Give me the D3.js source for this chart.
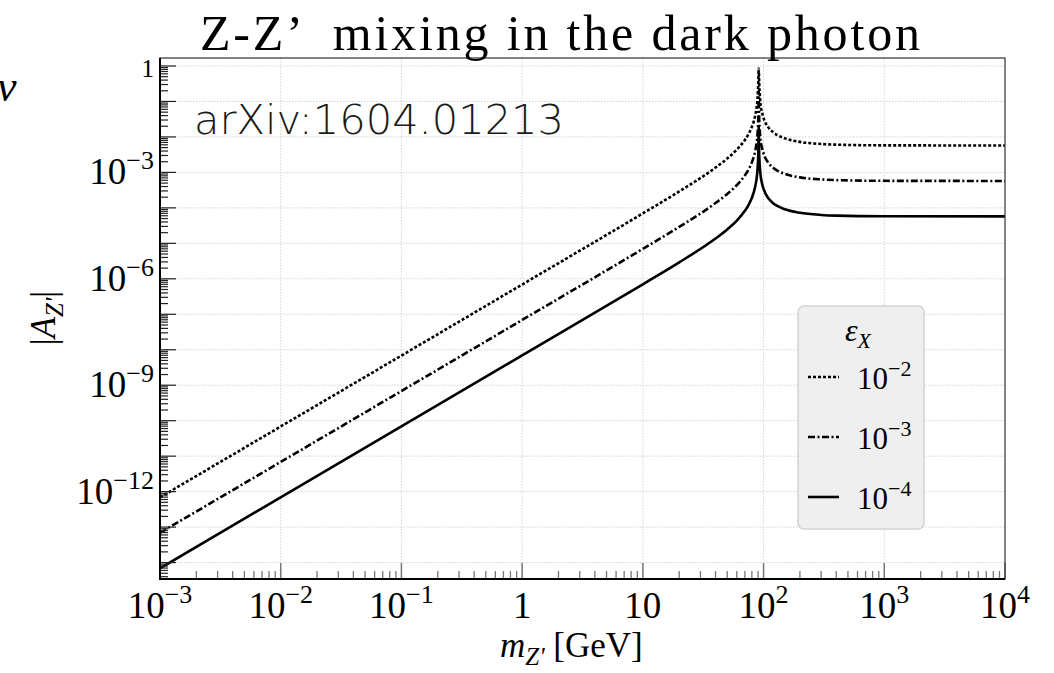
<!DOCTYPE html>
<html lang="en">
  <head>
    <meta charset="utf-8">
    <title>Z-Z' mixing in the dark photon</title>
    <script type="text/javascript" src="https://d3js.org/d3.v7.min.js"></script>
    <style>
      body { margin: 0; background: #fff; }
      text { font-family: "Liberation Serif", "Times New Roman", serif; fill: #000; }
    </style>
  </head>
  <body>
    <script type="text/javascript">

      var w = 1054;
      var h = 673;

      // masses in GeV
      var masses = [1e-3, 1, 10, 20, 40, 50, 60, 70, 75, 80, 85, 87, 89, 90.5, 91.19, 92, 94, 97, 100, 110, 120, 130, 150, 200, 300, 400, 1000, 1e4];

      // |A_Z'| for eps_X = 1e-2 (dotted)
      var ampEps2 = [6.9e-13, 6.9e-7, 7.0e-5, 2.9e-4, 1.37e-3, 2.47e-3, 4.38e-3, 8.24e-3, 1.2e-2, 1.92e-2, 3.8e-2, 5.82e-2, 0.115, 0.376, 0.85, 0.326, 9.7e-2, 4.94e-2, 3.41e-2, 1.83e-2, 1.36e-2, 1.13e-2, 9.1e-3, 7.25e-3, 6.32e-3, 6.05e-3, 5.79e-3, 5.74e-3];
      // eps_X = 1e-3 (dash-dot)
      var ampEps3 = [6.9e-14, 6.9e-8, 7.0e-6, 2.9e-5, 1.37e-4, 2.47e-4, 4.38e-4, 8.24e-4, 1.2e-3, 1.92e-3, 3.8e-3, 5.82e-3, 1.15e-2, 3.76e-2, 0.2, 3.26e-2, 9.7e-3, 4.94e-3, 3.41e-3, 1.83e-3, 1.36e-3, 1.13e-3, 9.1e-4, 7.25e-4, 6.32e-4, 6.05e-4, 5.79e-4, 5.74e-4];
      // eps_X = 1e-4 (solid)
      var ampEps4 = [6.9e-15, 6.9e-9, 7.0e-7, 2.9e-6, 1.37e-5, 2.47e-5, 4.38e-5, 8.24e-5, 1.2e-4, 1.92e-4, 3.8e-4, 5.82e-4, 1.15e-3, 3.76e-3, 2.0e-2, 3.26e-3, 9.7e-4, 4.94e-4, 3.41e-4, 1.83e-4, 1.36e-4, 1.13e-4, 9.1e-5, 7.25e-5, 6.32e-5, 6.05e-5, 5.79e-5, 5.74e-5];

      var seriesNames = ["−2", "−3", "−4"];
      var dashes = ["3,2", "7,2.5,2,2.5", null];

      var xTickVals = [1e-3, 1e-2, 1e-1, 1, 10, 1e2, 1e3, 1e4];
      var xTickBase = ["10", "10", "10", "1", "10", "10", "10", "10"];
      var xTickExp = ["−3", "−2", "−1", "", "", "2", "3", "4"];
      var yTickVals = [1e-3, 1e-6, 1e-9, 1e-12];
      var yTickExp = ["−3", "−6", "−9", "−12"];

      var plot = {left: 160, right: 1005, top: 58, bottom: 579};

      var xScale = d3.scaleLog()
                     .domain([1e-3, 1e4])
                     .range([plot.left, plot.right]);

      var yScale = d3.scaleLog()
                     .domain([3.44e-15, 1.68])
                     .range([plot.bottom, plot.top]);

      var svg = d3.select("body")
                  .append("svg")
                  .attr("width", w)
                  .attr("height", h);

      svg.append("rect").attr("width", w).attr("height", h).style("fill", "#fff");

      svg.append("clipPath").attr("id", "clip")
         .append("rect")
         .attr("x", plot.left).attr("y", plot.top)
         .attr("width", plot.right - plot.left).attr("height", plot.bottom - plot.top);

      // decades for grid and ticks
      var xDecades = d3.range(-3, 5).map(function(e) { return Math.pow(10, e); });
      var yDecades = d3.range(-14, 1).map(function(e) { return Math.pow(10, e); });

      var grid = svg.append("g");
      grid.selectAll(".gx")
          .data(xDecades.slice(1, -1))
          .enter().append("line")
          .attr("x1", function(d) { return xScale(d); })
          .attr("x2", function(d) { return xScale(d); })
          .attr("y1", plot.top).attr("y2", plot.bottom)
          .style("stroke", "#d4d4d4").style("stroke-width", 1).style("stroke-dasharray", "1.5,1.5");
      grid.selectAll(".gy")
          .data(yDecades)
          .enter().append("line")
          .attr("x1", plot.left).attr("x2", plot.right)
          .attr("y1", function(d) { return yScale(d); })
          .attr("y2", function(d) { return yScale(d); })
          .style("stroke", "#d4d4d4").style("stroke-width", 1).style("stroke-dasharray", "1.5,1.5");

      // arXiv tag
      svg.append("text")
         .attr("x", 194).attr("y", 134)
         .attr("textLength", 370)
         .attr("lengthAdjust", "spacingAndGlyphs")
         .style("font-family", "'DejaVu Sans', 'Liberation Sans', sans-serif")
         .style("font-weight", 200)
         .style("font-size", "40px")
         .style("fill", "#1a1a1a")
         .text("arXiv:1604.01213");

      // curves
      var series = [ampEps2, ampEps3, ampEps4].map(function(vals) {
        return masses.map(function(m, i) { return {m: m, a: vals[i]}; });
      });

      var line = d3.line()
                   .x(function(d) { return xScale(d.m); })
                   .y(function(d) { return yScale(d.a); })
                   .curve(d3.curveMonotoneX);

      svg.append("g").attr("clip-path", "url(#clip)")
         .selectAll("path")
         .data(series)
         .enter().append("path")
         .attr("d", line)
         .style("fill", "none")
         .style("stroke", "#000")
         .style("stroke-width", 2.6)
         .style("stroke-dasharray", function(d, i) { return dashes[i]; });

      // minor ticks
      var xMinor = [], yMinor = [];
      xDecades.forEach(function(d) { for (var k = 2; k < 10; k++) if (d * k < 1e4) xMinor.push(d * k); });
      d3.range(-15, 1).forEach(function(e) {
        for (var k = 2; k < 10; k++) {
          var v = k * Math.pow(10, e);
          if (v > 3.44e-15 && v < 1.68) yMinor.push(v);
        }
      });

      var ticks = svg.append("g");
      ticks.selectAll(".xmaj").data(xDecades).enter().append("line")
           .attr("x1", function(d) { return xScale(d); }).attr("x2", function(d) { return xScale(d); })
           .attr("y1", plot.bottom).attr("y2", plot.bottom - 16)
           .style("stroke", "#777").style("stroke-width", 1.5);
      ticks.selectAll(".xmin").data(xMinor).enter().append("line")
           .attr("x1", function(d) { return xScale(d); }).attr("x2", function(d) { return xScale(d); })
           .attr("y1", plot.bottom).attr("y2", plot.bottom - 8)
           .style("stroke", "#777").style("stroke-width", 1.3);
      ticks.selectAll(".ymaj").data(yDecades).enter().append("line")
           .attr("y1", function(d) { return yScale(d); }).attr("y2", function(d) { return yScale(d); })
           .attr("x1", plot.left).attr("x2", plot.left + 16)
           .style("stroke", "#222").style("stroke-width", 1.2);
      ticks.selectAll(".ymin").data(yMinor).enter().append("line")
           .attr("y1", function(d) { return yScale(d); }).attr("y2", function(d) { return yScale(d); })
           .attr("x1", plot.left).attr("x2", plot.left + 8)
           .style("stroke", "#222").style("stroke-width", 1.2);

      // frame
      svg.append("rect")
         .attr("x", plot.left).attr("y", plot.top)
         .attr("width", plot.right - plot.left).attr("height", plot.bottom - plot.top)
         .style("fill", "none").style("stroke", "#333").style("stroke-width", 1.2);
      svg.append("path")
         .attr("d", "M" + plot.left + "," + plot.top + "V" + plot.bottom + "H" + plot.right)
         .style("fill", "none").style("stroke", "#000").style("stroke-width", 2);

      // x tick labels
      var xl = svg.selectAll(".xlab").data(xTickVals).enter().append("text")
                  .attr("x", function(d) { return xScale(d); })
                  .attr("y", 618)
                  .attr("text-anchor", "middle")
                  .style("font-size", "37px");
      xl.append("tspan").text(function(d, i) { return xTickBase[i]; });
      xl.append("tspan")
        .attr("dy", -15)
        .style("font-size", "26px")
        .text(function(d, i) { return xTickExp[i]; });

      // y tick labels
      svg.append("text")
         .attr("x", 154).attr("y", 77)
         .attr("text-anchor", "end")
         .style("font-size", "25px")
         .text("1");
      var yl = svg.selectAll(".ylab").data(yTickVals).enter().append("text")
                  .attr("x", 154)
                  .attr("y", function(d) { return yScale(d) + 12; })
                  .attr("text-anchor", "end")
                  .style("font-size", "37px");
      yl.append("tspan").text("10");
      yl.append("tspan")
        .attr("dy", -15)
        .style("font-size", "26px")
        .text(function(d, i) { return yTickExp[i]; });

      // title
      svg.append("text")
         .attr("x", 200).attr("y", 50)
         .attr("textLength", 720)
         .attr("lengthAdjust", "spacing")
         .style("font-size", "50px")
         .style("white-space", "pre")
         .text("Z-Z’  mixing in the dark photon");

      // stray glyph cut at the left edge
      svg.append("text")
         .attr("x", -3).attr("y", 101)
         .style("font-size", "44px")
         .style("font-style", "italic")
         .text("ν");

      // axis labels
      var xlab = svg.append("text")
                    .attr("x", 500).attr("y", 657)
                    .style("font-size", "35px");
      xlab.append("tspan").style("font-style", "italic").text("m");
      xlab.append("tspan").attr("dy", 8).style("font-size", "25px").style("font-style", "italic").text("Z'");
      xlab.append("tspan").attr("dy", -8).text(" [GeV]");

      var ylab = svg.append("text")
                    .attr("transform", "translate(55,318) rotate(-90)")
                    .attr("text-anchor", "middle")
                    .style("font-size", "35px");
      ylab.append("tspan").text("|");
      ylab.append("tspan").style("font-style", "italic").text("A");
      ylab.append("tspan").attr("dy", 8).style("font-size", "25px").style("font-style", "italic").text("Z'");
      ylab.append("tspan").attr("dy", -8).text("|");

      // legend
      var legend = svg.append("g");
      legend.append("rect")
            .attr("x", 798).attr("y", 306)
            .attr("width", 126).attr("height", 223)
            .attr("rx", 6)
            .style("fill", "#efefef")
            .style("stroke", "#d3d3d3")
            .style("stroke-width", 1.5);
      var lt = legend.append("text")
                     .attr("x", 845).attr("y", 341)
                     .style("font-size", "32px")
                     .style("font-style", "italic");
      lt.append("tspan").text("ε");
      lt.append("tspan").attr("dy", 7).style("font-size", "22px").text("X");

      var rows = legend.selectAll(".row").data(seriesNames).enter().append("g")
                       .attr("transform", function(d, i) { return "translate(0," + (377 + i * 60) + ")"; });
      rows.append("line")
          .attr("x1", 808).attr("x2", 839)
          .attr("y1", 0).attr("y2", 0)
          .style("stroke", "#000").style("stroke-width", 2.6)
          .style("stroke-dasharray", function(d, i) { return dashes[i]; });
      var rt = rows.append("text")
                   .attr("x", 857).attr("y", 12)
                   .style("font-size", "31px");
      rt.append("tspan").text("10");
      rt.append("tspan").attr("dy", -13).style("font-size", "22px").text(function(d) { return d; });

    </script>
  </body>
</html>
